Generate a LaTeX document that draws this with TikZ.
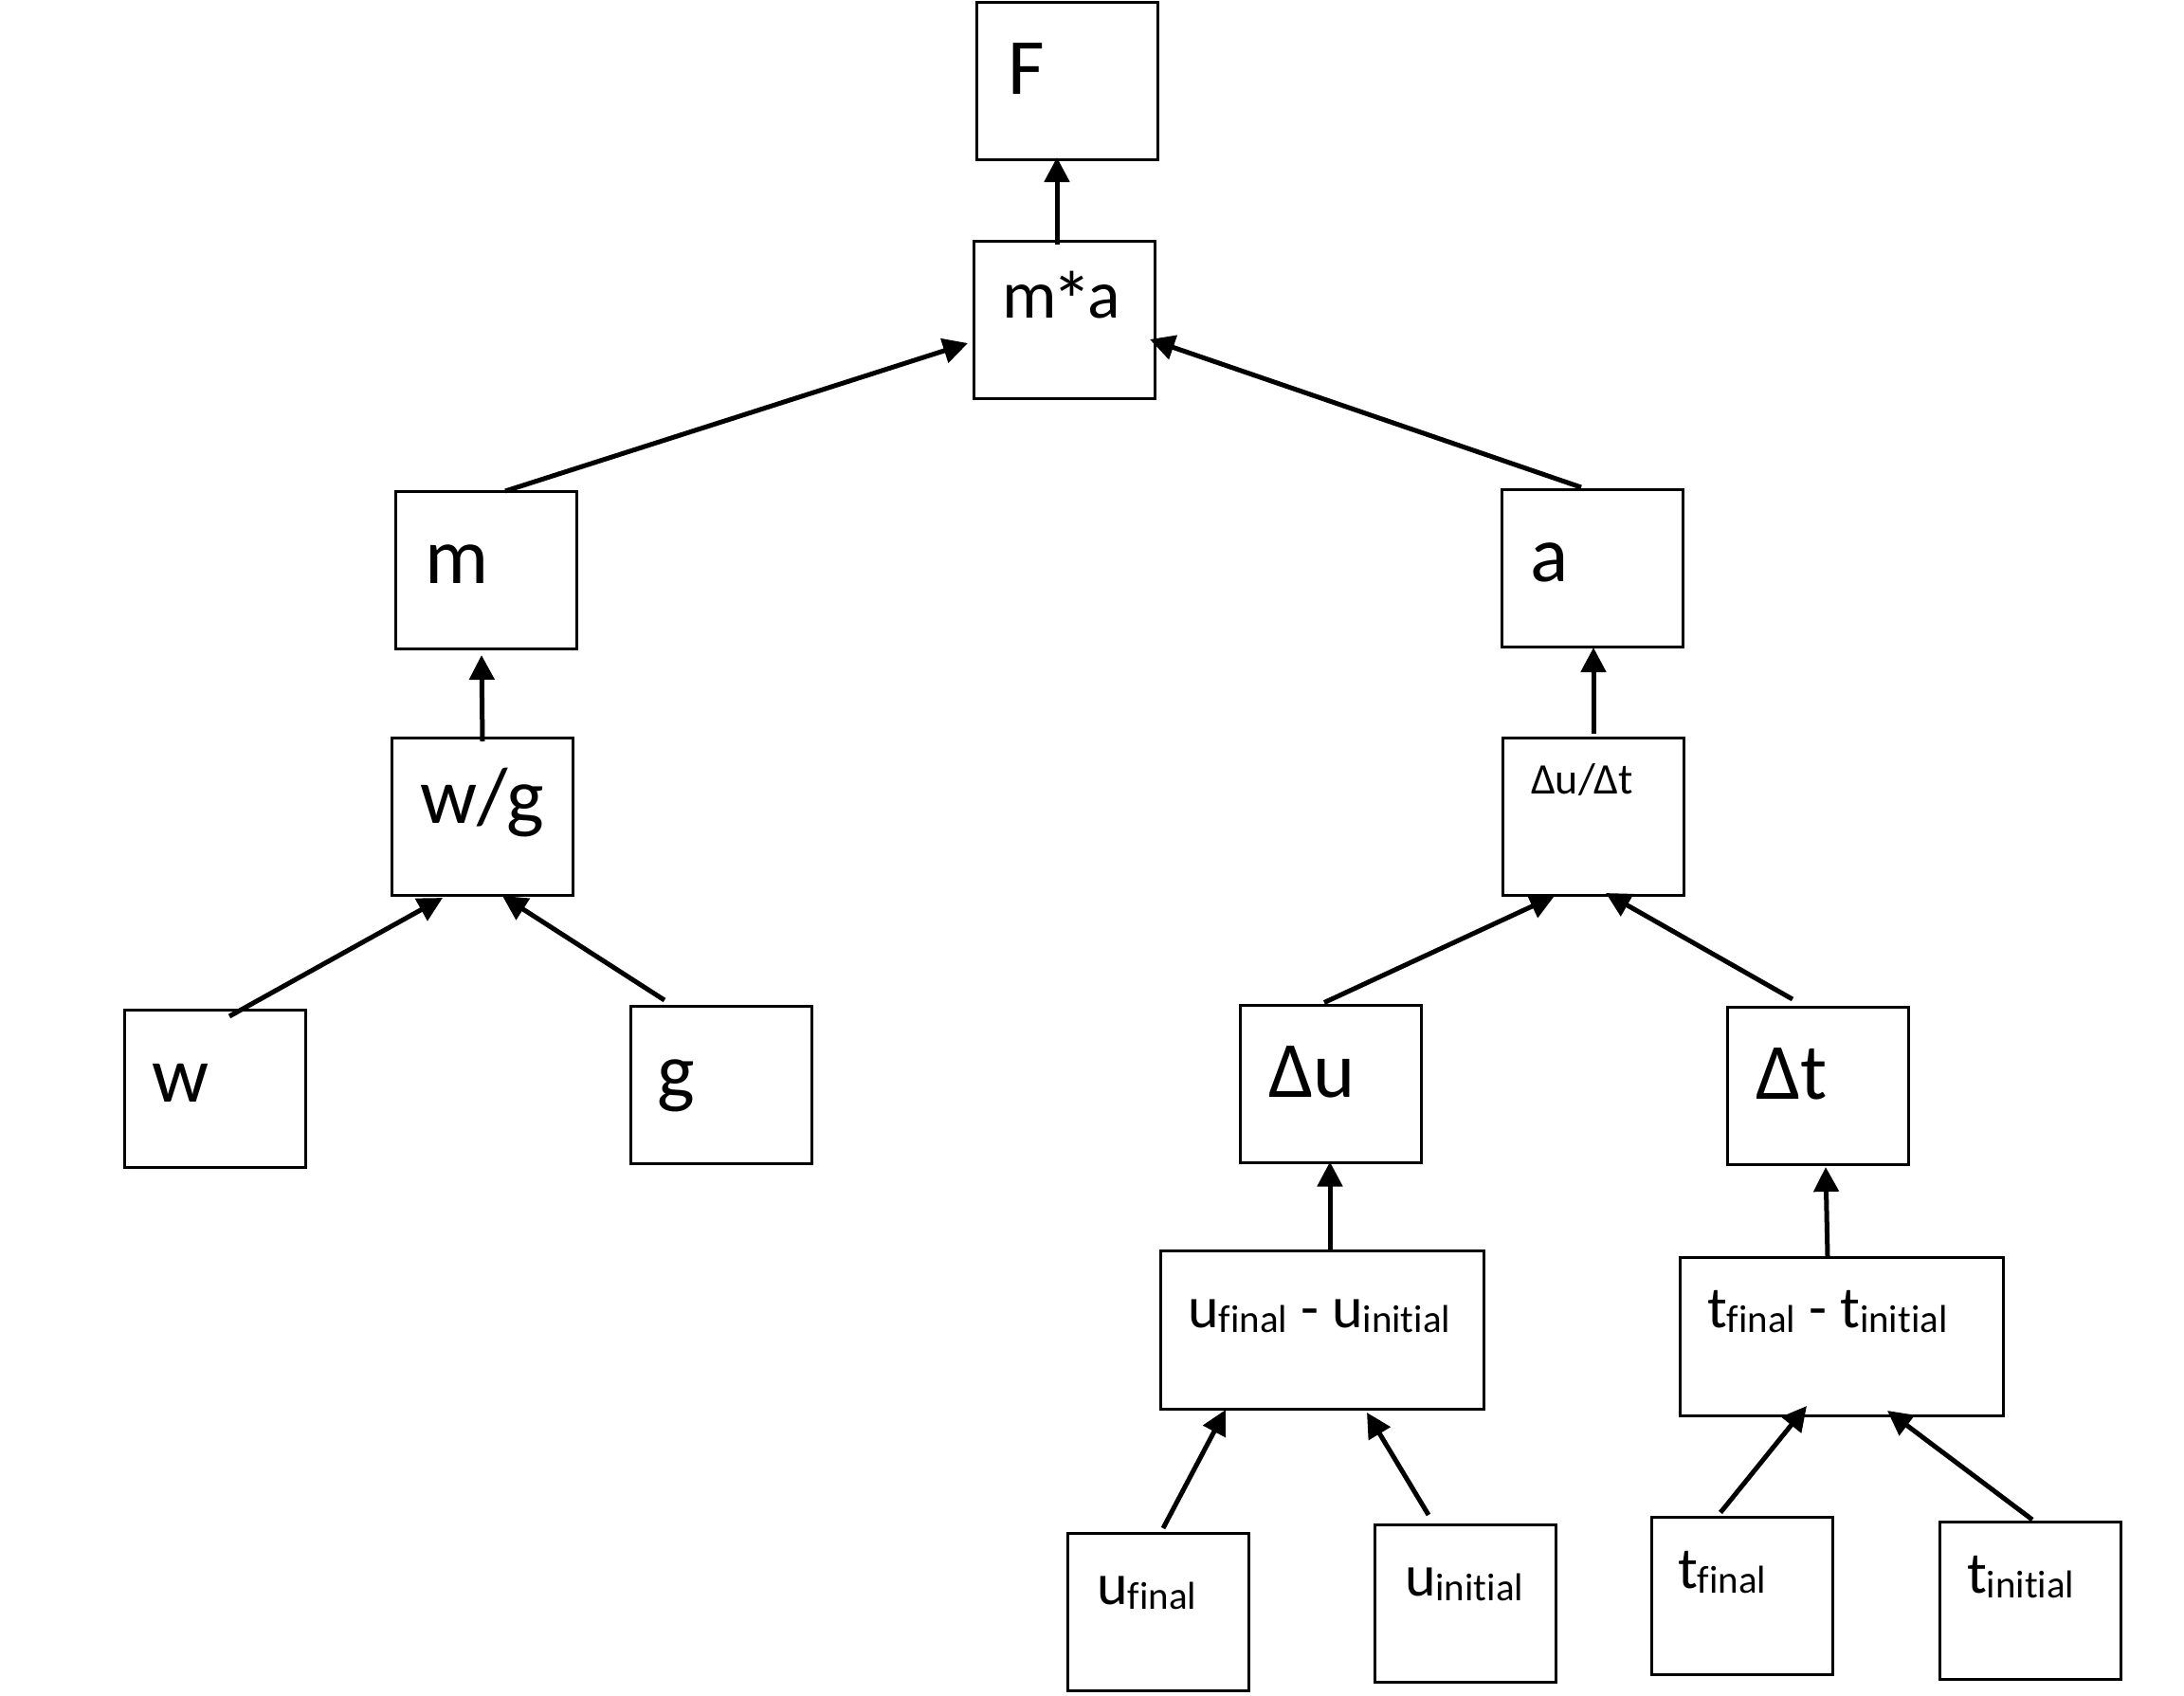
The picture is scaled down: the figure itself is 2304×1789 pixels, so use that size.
\documentclass[tikz,border=0pt]{standalone}
\usepackage{fontspec}
\usepackage{graphicx}
\setmainfont[Ligatures={NoCommon,NoContextual}]{Carlito}
\usetikzlibrary{arrows.meta,calc}
\newcommand\lowsub[1]{\raisebox{-1.25pt}{\fontsize{10.25pt}{11pt}\selectfont #1}}
\begin{document}
\begin{tikzpicture}[x=0.25pt,y=-0.25pt,
  box/.style={draw,line width=0.75pt,minimum width=47.75pt,minimum height=41.5pt,inner sep=0pt,outer sep=0pt},
  widebox/.style={box,minimum width=85.25pt,minimum height=41.75pt},
  lbl/.style={anchor=base west,inner sep=0pt,outer sep=0pt},
  bigtxt/.style={lbl,font=\fontsize{21pt}{24pt}\selectfont},
  matxt/.style={lbl,font=\fontsize{18pt}{22pt}\selectfont},
  midtxt/.style={lbl,font=\fontsize{15.5pt}{18pt}\selectfont},
  smalltxt/.style={lbl,font=\fontsize{11.5pt}{14pt}\selectfont},
  arr/.style={line width=1.25pt,-{Triangle[length=6.5pt,width=6.5pt]}}]
\useasboundingbox[fill=white] (0,0) rectangle (2304,1789);
% boxes
\node[box] (F) at (1125.5,85) {};
\node[box] (ma) at (1122.5,337.5) {};
\node[box] (m) at (512.5,601) {};
\node[box] (a) at (1680,599) {};
\node[box] (wg) at (509,861) {};
\node[box] (dudt) at (1681,861) {};
\node[box] (w) at (227,1148) {};
\node[box] (g) at (760.5,1144) {};
\node[box] (du) at (1403.5,1143.5) {};
\node[box] (dt) at (1917.5,1145) {};
\node[widebox] (udiff) at (1394.5,1402.5) {};
\node[widebox] (tdiff) at (1942.5,1409.5) {};
\node[box] (uf) at (1221.5,1700) {};
\node[box] (ui) at (1546,1691) {};
\node[box] (tf) at (1837.5,1683.5) {};
\node[box] (ti) at (2141.5,1688) {};
% texts
\node[bigtxt] (Ft) at (1063,99) {F};
\node[matxt] (mat) at (1057,335) {m\kern-1.2pt\raisebox{-3pt}{\scalebox{1.2}{*}}\kern-1.2pt a};
\node[bigtxt] (mt) at (448,615) {m};
\node[bigtxt] (at) at (1614,613) {a};
\node[bigtxt] (wgt) at (443,868) {w/g};
\node[smalltxt] (dudtt) at (1615,837) {Δu/Δt};
\node[bigtxt] (wt) at (160,1162) {w};
\node[bigtxt] (gt) at (693,1158) {g};
\node[bigtxt] (dut) at (1338,1157) {Δu};
\node[bigtxt] (dtt) at (1852,1159) {Δt};
\node[midtxt] (udifft) at (1253,1400) {u\lowsub{final} - u\lowsub{initial}};
\node[midtxt] (tdifft) at (1801,1400) {t\lowsub{final} - t\lowsub{initial}};
\node[midtxt] (uft) at (1157,1692) {u\lowsub{final}};
\node[midtxt] (uit) at (1482,1683) {u\lowsub{initial}};
\node[midtxt] (tft) at (1770,1675) {t\lowsub{final}};
\node[midtxt] (tit) at (2075,1680) {t\lowsub{initial}};
% arrows
\draw[arr] ($(ma.north)+(-7.5,3)$) -- ($(F.south)+(-10.5,-2)$);
\draw[arr] ($(m.north)+(20.5,0)$) -- ($(ma.west)+(-6,24.5)$);
\draw[arr] ($(a.north)+(-12,-2)$) -- ($(ma.east)+(-5,20.5)$);
\draw[arr] ($(wg.north)+(0,4)$) -- ($(m.south)+(-4.5,7)$);
\draw[arr] ($(w.north)+(15,7)$) -- ($(wg.south)+(-42,3)$);
\draw[arr] ($(g.north)+(-59.5,-6)$) -- ($(wg.south)+(21,1)$);
\draw[arr] ($(dudt.north)+(0,-4)$) -- ($(a.south)+(1,1)$);
\draw[arr] ($(du.north)+(-6.5,-3)$) -- ($(dudt.south)+(-41,1)$);
\draw[arr] ($(dt.north)+(-26.5,-8)$) -- ($(dudt.south)+(13,-2)$);
\draw[arr] ($(udiff.north)+(8.5,-1)$) -- ($(du.south)+(-0.5,-1)$);
\draw[arr] ($(tdiff.north)+(-14.5,-1)$) -- ($(dt.south)+(8.5,3)$);
\draw[arr] ($(uf.north)+(5.5,-5)$) -- ($(udiff.south)+(-101.5,1)$);
\draw[arr] ($(ui.north)+(-39,-10)$) -- ($(udiff.south)+(47.5,4)$);
\draw[arr] ($(tf.north)+(-22.5,-5)$) -- ($(tdiff.south)+(-36.5,-10)$);
\draw[arr] ($(ti.north)+(2.5,-2)$) -- ($(tdiff.south)+(48.5,-5)$);
\end{tikzpicture}
\end{document}
